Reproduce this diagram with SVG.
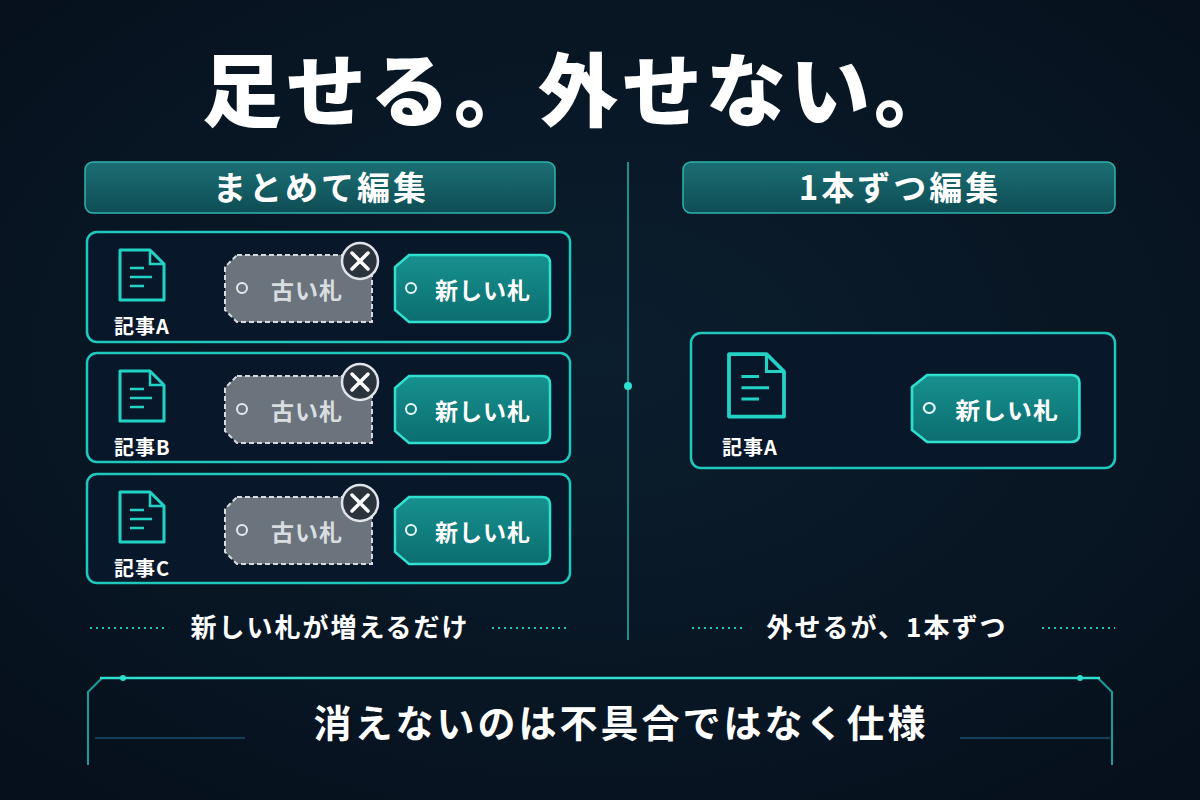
<svg xmlns="http://www.w3.org/2000/svg" width="1200" height="800" viewBox="0 0 1200 800">
<defs>
<radialGradient id="bg" cx="50%" cy="45%" r="75%"><stop offset="0" stop-color="#0b1e2e"/><stop offset="1" stop-color="#060f1b"/></radialGradient>
<linearGradient id="hdr" x1="0" y1="0" x2="0" y2="1"><stop offset="0" stop-color="#1b6e73"/><stop offset="1" stop-color="#0f4d55"/></linearGradient>
<linearGradient id="newt" x1="0" y1="0" x2="0" y2="1"><stop offset="0" stop-color="#16918f"/><stop offset="1" stop-color="#0c6d6f"/></linearGradient>
<g id="doc"><path d="M0 0 H30 L44 14 V50 H0 Z" fill="none" stroke="#22d3c5" stroke-width="3" stroke-linejoin="round"/><path d="M30 0 V14 H44" fill="none" stroke="#22d3c5" stroke-width="2.5"/><path d="M10 18 H24 M10 27 H32 M10 36 H24" stroke="#22d3c5" stroke-width="2.5"/></g>
<g id="oldtag"><path d="M12 0 H147 V67 H12 L0 55 V12 Z" fill="#6b737c" stroke="#d7dbe0" stroke-width="2" stroke-dasharray="5 3"/><circle cx="17" cy="33" r="5" fill="none" stroke="#e6e9ec" stroke-width="2"/><text x="82" y="44" class="tl" fill="#d9dde1">古い札</text></g>
<g id="newtag"><path d="M14 0 H147 Q155 0 155 8 V59 Q155 67 147 67 H14 L0 55 V12 Z" fill="url(#newt)" stroke="#2fe0d0" stroke-width="2.5"/><circle cx="16" cy="33" r="5" fill="none" stroke="#e6f8f7" stroke-width="2"/><text x="88" y="44" class="tl" fill="#fff">新しい札</text></g>
<g id="xmark"><circle r="18" fill="#2b333d" stroke="#e0e4e8" stroke-width="2.5"/><path d="M-8 -8 L8 8 M8 -8 L-8 8" stroke="#fff" stroke-width="3.5" stroke-linecap="round"/></g>
</defs>
<style>
text{font-family:"Noto Sans CJK JP","Noto Sans",sans-serif;}
.tl{font-size:23px;font-weight:700;text-anchor:middle;letter-spacing:1px;}
.row{fill:#08182a;stroke:#1ec8bd;stroke-width:2.5;}
.lbl{font-size:20px;font-weight:700;fill:#fff;letter-spacing:1px;}
.hdr{fill:url(#hdr);stroke:#2bb5ad;stroke-width:1.5;}
.ht{font-size:33px;font-weight:700;fill:#fff;text-anchor:middle;letter-spacing:3px;}
.cap{font-size:26px;font-weight:700;fill:#fff;text-anchor:middle;letter-spacing:2px;}
.dots{stroke:#1ec8bd;stroke-width:2;stroke-dasharray:2 4;}
.cl{stroke:#1ec8bd;stroke-width:2;}
</style>
<rect width="1200" height="800" fill="url(#bg)"/>
<text x="580" y="120" font-size="80" font-weight="900" fill="#fff" text-anchor="middle" letter-spacing="4">足せる。外せない。</text>
<g id="divider"><line x1="628" y1="162" x2="628" y2="640" stroke="#1a8f8c" stroke-width="2"/><circle cx="628" cy="386" r="4" fill="#2fe0d0"/></g>
<g id="hdrL"><rect x="85" y="162" width="470" height="51" rx="8" class="hdr"/><text x="321" y="200" class="ht">まとめて編集</text></g>
<g id="hdrR"><rect x="683" y="162" width="432" height="51" rx="8" class="hdr"/><text x="900" y="200" class="ht">1本ずつ編集</text></g>
<g id="connectors">
<line x1="182" y1="288" x2="236" y2="288" class="cl"/><line x1="372" y1="288" x2="400" y2="288" class="cl"/>
<line x1="182" y1="409" x2="236" y2="409" class="cl"/><line x1="372" y1="409" x2="400" y2="409" class="cl"/>
<line x1="182" y1="530" x2="236" y2="530" class="cl"/><line x1="372" y1="530" x2="400" y2="530" class="cl"/>
<line x1="806" y1="408" x2="920" y2="408" class="cl"/>
</g>
<g id="rowA"><rect x="87" y="232" width="483" height="110" rx="10" class="row"/><use href="#doc" x="120" y="250"/><text x="114" y="334" class="lbl">記事A</text><use href="#oldtag" x="225" y="255"/><use href="#xmark" x="360" y="261"/><use href="#newtag" x="395" y="255"/></g>
<g id="rowB"><rect x="87" y="353" width="483" height="109" rx="10" class="row"/><use href="#doc" x="120" y="371"/><text x="114" y="455" class="lbl">記事B</text><use href="#oldtag" x="225" y="376"/><use href="#xmark" x="360" y="382"/><use href="#newtag" x="395" y="376"/></g>
<g id="rowC"><rect x="87" y="474" width="483" height="109" rx="10" class="row"/><use href="#doc" x="120" y="492"/><text x="114" y="576" class="lbl">記事C</text><use href="#oldtag" x="225" y="497"/><use href="#xmark" x="360" y="503"/><use href="#newtag" x="395" y="497"/></g>
<g id="single"><rect x="691" y="333" width="424" height="135" rx="10" class="row"/><g transform="translate(729,354) scale(1.25)"><use href="#doc"/></g><text x="722" y="455" class="lbl" font-size="23">記事A</text><g transform="translate(912,375) scale(1.08 1)"><use href="#newtag"/></g></g>
<g id="capL"><line x1="90" y1="628" x2="165" y2="628" class="dots"/><text x="330" y="637" class="cap">新しい札が増えるだけ</text><line x1="492" y1="628" x2="570" y2="628" class="dots"/></g>
<g id="capR"><line x1="692" y1="628" x2="742" y2="628" class="dots"/><text x="887" y="637" class="cap">外せるが、1本ずつ</text><line x1="1042" y1="628" x2="1115" y2="628" class="dots"/></g>
<g id="banner"><path d="M102 678 H1098 L1112 692 V765 M88 765 V692 L102 678" fill="none" stroke="#1a9c97" stroke-width="2"/><line x1="100" y1="678" x2="1100" y2="678" stroke="#2fe0d0" stroke-width="2.5"/><circle cx="123" cy="678" r="3" fill="#2fe0d0"/><circle cx="1080" cy="678" r="3" fill="#2fe0d0"/><line x1="95" y1="738" x2="245" y2="738" stroke="#12405a" stroke-width="2"/><line x1="960" y1="738" x2="1110" y2="738" stroke="#12405a" stroke-width="2"/><text x="621" y="737" font-size="38" font-weight="700" fill="#fff" text-anchor="middle" letter-spacing="3">消えないのは不具合ではなく仕様</text></g>
</svg>
